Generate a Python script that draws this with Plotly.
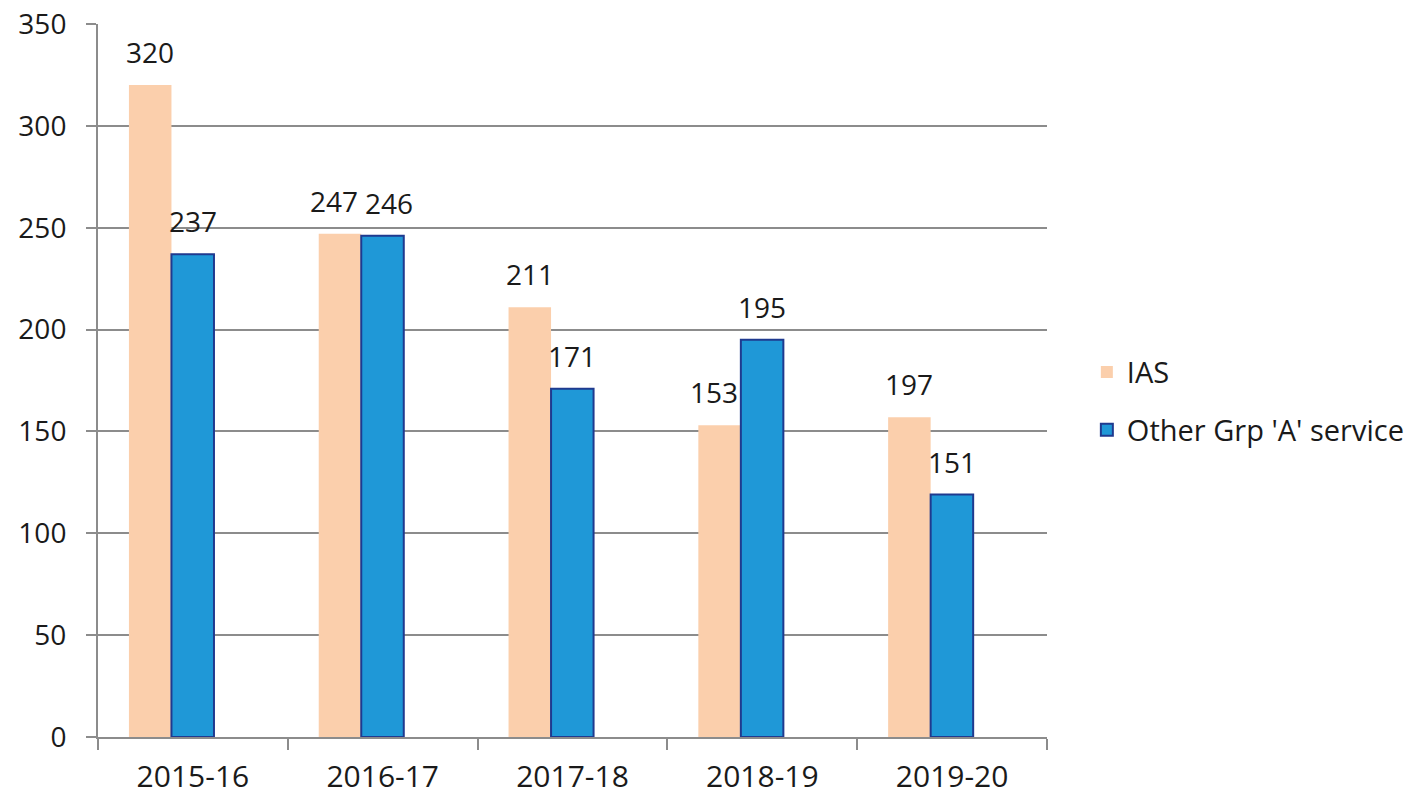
import plotly.graph_objects as go

years = ["2015-16", "2016-17", "2017-18", "2018-19", "2019-20"]
ias_values = [320, 247, 211, 153, 157]
other_values = [237, 246, 171, 195, 119]
ias_labels = ["320", "247", "211", "153", "197"]
other_labels = ["237", "246", "171", "195", "151"]

FONT = "Open Sans"
TXT = "#1a1a1a"
GRID = "#8c8c8c"
FS = 28

BAR_W = 0.224
IAS_OFF = -0.337
OTH_OFF = IAS_OFF + BAR_W

# small horizontal nudges (px) to keep neighbouring labels apart
ias_nudge = [0, -6, 0, -6, 0]
other_nudge = [0, 6, 0, 0, 0]

fig = go.Figure()
fig.add_trace(go.Bar(
    x=years, y=ias_values, name="IAS",
    width=BAR_W, offset=IAS_OFF,
    marker=dict(color="#FBCFAC", line=dict(width=0)),
    legendgroup="a",
))
fig.add_trace(go.Bar(
    x=years, y=other_values, name="Other Grp 'A' service",
    width=BAR_W, offset=OTH_OFF,
    marker=dict(color="#1F98D7", line=dict(color="#1F3A8F", width=2)),
    legendgroup="b",
))

annotations = []
for i, (v, t, n) in enumerate(zip(ias_values, ias_labels, ias_nudge)):
    annotations.append(dict(x=i + IAS_OFF + BAR_W / 2, y=v, xref="x", yref="y", text=t,
                            showarrow=False, xshift=n, yshift=33,
                            font=dict(family=FONT, size=FS, color=TXT)))
for i, (v, t, n) in enumerate(zip(other_values, other_labels, other_nudge)):
    annotations.append(dict(x=i + OTH_OFF + BAR_W / 2, y=v, xref="x", yref="y", text=t,
                            showarrow=False, xshift=n, yshift=33,
                            font=dict(family=FONT, size=FS, color=TXT)))

fig.update_layout(
    width=1427, height=796,
    margin=dict(l=98, r=380, t=24, b=59),
    paper_bgcolor="white", plot_bgcolor="white",
    barmode="overlay",
    font=dict(family=FONT, size=FS, color=TXT),
    showlegend=True,
    legend=dict(x=1.042, y=0.471, xanchor="left", yanchor="middle",
                traceorder="grouped", tracegroupgap=17,
                font=dict(family=FONT, size=29, color=TXT),
                itemwidth=30),
    annotations=annotations,
)
fig.update_xaxes(
    automargin=False,
    range=[-0.5, len(years) - 0.5],
    showline=True, linecolor=GRID, linewidth=2,
    ticks="outside", tickson="boundaries", ticklen=11, tickwidth=2, tickcolor=GRID,
    ticklabelstandoff=12,
    tickfont=dict(family=FONT, size=30, color=TXT),
    showgrid=False,
)
fig.update_yaxes(
    automargin=False,
    range=[0, 350], dtick=50,
    showline=True, linecolor=GRID, linewidth=2,
    ticks="outside", ticklen=10, tickwidth=2, tickcolor=GRID,
    ticklabelstandoff=14,
    showgrid=True, gridcolor=GRID, gridwidth=2,
    zeroline=False,
    tickfont=dict(family=FONT, size=FS, color=TXT),
)

fig.write_html("out.html",
               config={"displayModeBar": False},
               post_script="document.body.style.margin='0';document.body.style.overflow='hidden';")
